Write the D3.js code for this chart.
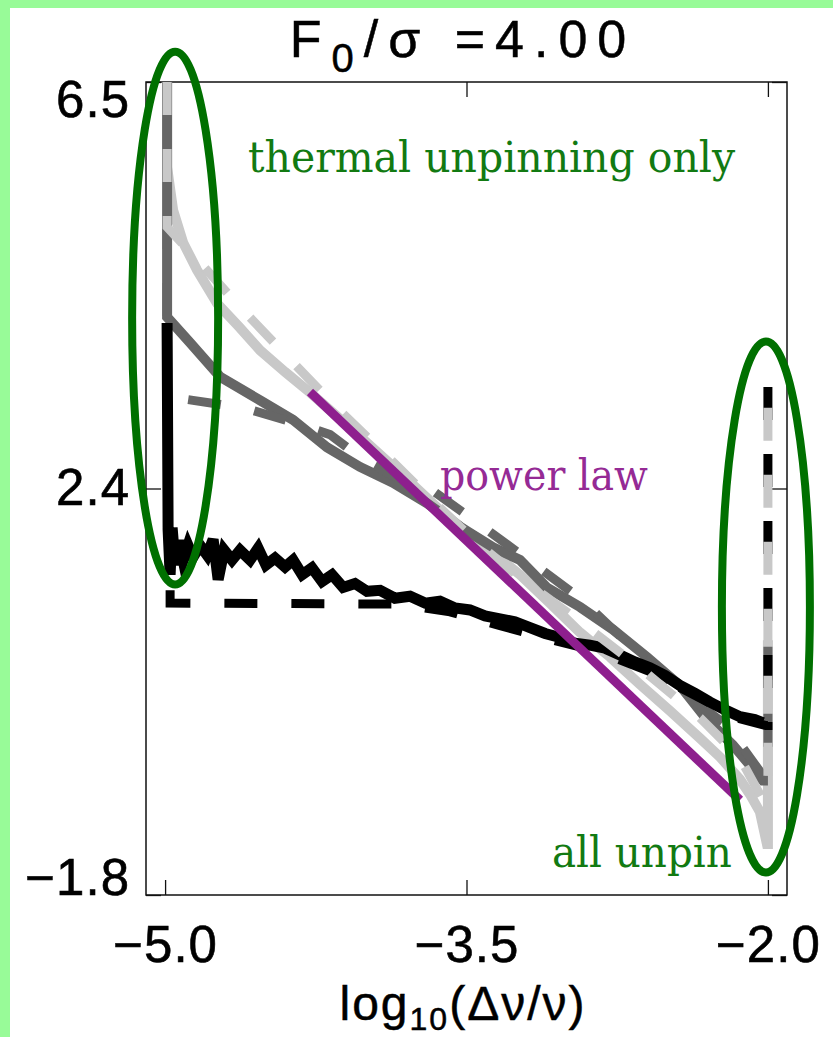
<!DOCTYPE html>
<html>
<head>
<meta charset="utf-8">
<script src="https://cdn.jsdelivr.net/npm/d3@7/dist/d3.min.js"></script>
<style>
  html, body { margin: 0; padding: 0; background: #fff; }
  svg { display: block; }
</style>
</head>
<body>
<svg id="chart" width="833" height="1037"></svg>
<script>
// ---------------- data ----------------
const xTicks = [-5.0, -3.5, -2.0];
const xTickLabels = ["\u22125.0", "\u22123.5", "\u22122.0"];
const yTicks = [-1.8, 2.35, 6.5];
const yTickLabels = ["\u22121.8", "2.4", "6.5"];
const xDomain = [-5.095, -1.905];
const yDomain = [-1.8, 6.5];

// each series: [log10(dnu/nu), value]
const lightGraySolid = [
  [-4.99, 6.50], [-4.99, 5.63], [-4.960, 5.19], [-4.910, 4.86], [-4.841, 4.58],
  [-4.741, 4.24], [-4.627, 3.99], [-4.527, 3.76], [-4.403, 3.54], [-4.279, 3.33],
  [-4.030, 2.88], [-3.831, 2.51], [-3.617, 2.10], [-3.368, 1.69], [-3.234, 1.47],
  [-3.085, 1.18], [-2.935, 0.88], [-2.786, 0.63], [-2.637, 0.35], [-2.488, 0.08],
  [-2.338, -0.20], [-2.239, -0.39], [-2.139, -0.62], [-2.090, -0.77], [-2.040, -0.95],
  [-2.005, -1.28], [-2.0, -1.28], [-2.0, 0.80]
];
const lightGrayDashed = [
  [-4.99, 6.50], [-4.99, 5.02], [-4.801, 4.60], [-4.622, 4.19], [-4.388, 3.69],
  [-4.154, 3.19], [-3.905, 2.70], [-3.667, 2.22], [-3.433, 1.77], [-3.234, 1.44],
  [-2.935, 0.99], [-2.637, 0.52], [-2.338, 0.01], [-2.139, -0.40], [-2.025, -0.83],
  [-2.0, -0.83], [-2.0, 3.25]
];
const darkGraySolid = [
  [-4.99, 6.50], [-4.99, 4.10], [-4.876, 3.84], [-4.726, 3.49], [-4.527, 3.25],
  [-4.363, 3.05], [-4.194, 2.77], [-4.030, 2.57], [-3.866, 2.41], [-3.697, 2.20],
  [-3.532, 1.96], [-3.368, 1.75], [-3.234, 1.62], [-3.100, 1.34], [-2.935, 1.14],
  [-2.771, 0.91], [-2.602, 0.63], [-2.438, 0.34], [-2.303, -0.01], [-2.174, -0.27],
  [-2.025, -0.63], [-2.0, -0.63]
];
const darkGrayDashed = [
  [-4.99, 6.50], [-4.99, 3.30], [-4.960, 3.28], [-4.861, 3.25], [-4.602, 3.17],
  [-4.338, 3.01], [-4.179, 2.90], [-4.030, 2.67], [-3.866, 2.48], [-3.697, 2.37],
  [-3.418, 1.96], [-3.219, 1.66], [-2.935, 1.23], [-2.672, 0.72], [-2.438, 0.29],
  [-2.204, -0.07], [-2.025, -0.58], [-2.0, -0.58], [-2.0, 0.80]
];
const blackSolid = [
  [-4.99, 4.04], [-4.985, 1.93], [-4.975, 1.47], [-4.965, 1.95], [-4.950, 1.57],
  [-4.930, 1.82], [-4.910, 1.62], [-4.886, 1.77], [-4.861, 1.65], [-4.826, 1.77],
  [-4.791, 1.67], [-4.761, 1.83], [-4.736, 1.42], [-4.706, 1.72], [-4.667, 1.62],
  [-4.627, 1.72], [-4.577, 1.62], [-4.537, 1.74], [-4.498, 1.57], [-4.453, 1.64],
  [-4.403, 1.55], [-4.363, 1.62], [-4.318, 1.47], [-4.269, 1.54], [-4.219, 1.40],
  [-4.169, 1.47], [-4.114, 1.34], [-4.055, 1.38], [-3.995, 1.30], [-3.930, 1.31],
  [-3.856, 1.23], [-3.781, 1.25], [-3.706, 1.18], [-3.632, 1.20], [-3.557, 1.13],
  [-3.483, 1.11], [-3.408, 1.05], [-3.333, 1.02], [-3.259, 0.99], [-3.184, 0.93],
  [-3.109, 0.87], [-3.035, 0.83], [-2.960, 0.77], [-2.886, 0.75], [-2.811, 0.72],
  [-2.736, 0.65], [-2.662, 0.58], [-2.587, 0.52], [-2.512, 0.44], [-2.438, 0.34],
  [-2.363, 0.26], [-2.289, 0.17], [-2.214, 0.09], [-2.139, 0.02], [-2.065, -0.01],
  [-2.025, -0.04]
];
const blackDashed = [
  [-4.975, 1.31], [-4.975, 1.18], [-3.831, 1.17], [-3.582, 1.09], [-3.333, 0.95],
  [-3.085, 0.81], [-2.836, 0.68], [-2.587, 0.48], [-2.338, 0.21], [-2.139, 0.00],
  [-2.010, -0.07], [-2.0, -0.07], [-2.0, 3.50]
];
const powerLaw = [[-4.279, 3.335], [-2.139, -0.83]];

// annotation ellipses (centre and half-axes in data units)
const leftEllipse = {cx: -4.95, cy: 4.09, rx: 0.214, ry: 2.72};
const rightEllipse = {cx: -2.01, cy: 1.14, rx: 0.219, ry: 2.71};

// annotation texts anchored at data positions
const notes = [
  {text: "thermal unpinning only", x: -4.587, y: 5.58, width: 487, color: "#127a12"},
  {text: "power law", x: -3.632, y: 2.33, width: 208, color: "#952a95"},
  {text: "all unpin", x: -3.075, y: -1.51, width: 180, color: "#127a12"}
];

// ---------------- drawing ----------------
const W = 833, H = 1037;
const plot = {left: 146, right: 787, top: 82, bottom: 895};
const x = d3.scaleLinear().domain(xDomain).range([plot.left, plot.right]);
const y = d3.scaleLinear().domain(yDomain).range([plot.bottom, plot.top]);
const sansFont = "'Liberation Sans', Arial, sans-serif";
const serifFont = "'DejaVu Serif', serif";

const svg = d3.select("#chart");

// pale green edge along the top and left of the page
svg.append("rect").attr("width", W).attr("height", H).attr("fill", "#98fb98");
svg.append("rect").attr("x", 10).attr("y", 8).attr("width", W - 10).attr("height", H - 8).attr("fill", "#fff");

svg.append("defs").append("clipPath").attr("id", "plot-clip").append("rect")
  .attr("x", plot.left).attr("y", plot.top - 1)
  .attr("width", plot.right - plot.left).attr("height", plot.bottom - plot.top + 1);

// frame
svg.append("rect")
  .attr("x", plot.left).attr("y", plot.top)
  .attr("width", plot.right - plot.left).attr("height", plot.bottom - plot.top)
  .attr("fill", "none").attr("stroke", "#111").attr("stroke-width", 1.5);

// axes with inward ticks
const gBottom = svg.append("g").attr("transform", `translate(0,${plot.bottom})`)
  .call(d3.axisBottom(x).tickValues(xTicks).tickFormat((d, i) => xTickLabels[i])
    .tickSizeInner(-15).tickSizeOuter(0).tickPadding(31));
const gTop = svg.append("g").attr("transform", `translate(0,${plot.top})`)
  .call(d3.axisTop(x).tickValues(xTicks).tickFormat("").tickSizeInner(-15).tickSizeOuter(0));
const gLeft = svg.append("g").attr("transform", `translate(${plot.left},0)`)
  .call(d3.axisLeft(y).tickValues(yTicks).tickFormat((d, i) => yTickLabels[i])
    .tickSizeInner(-15).tickSizeOuter(0).tickPadding(16));
const gRight = svg.append("g").attr("transform", `translate(${plot.right},0)`)
  .call(d3.axisRight(y).tickValues(yTicks).tickFormat("").tickSizeInner(-15).tickSizeOuter(0));

[gBottom, gTop, gLeft, gRight].forEach(g => {
  g.select(".domain").remove();
  g.selectAll(".tick line").attr("stroke", "#111").attr("stroke-width", 1.3);
  g.selectAll(".tick text").attr("font-family", sansFont).attr("font-size", 51)
    .attr("letter-spacing", 1)
    .attr("fill", "#000").attr("stroke", "#000").attr("stroke-width", 0.6);
});
// end labels of the value axis sit just inside the frame
gLeft.selectAll(".tick text").attr("transform", d =>
  d === yTicks[yTicks.length - 1] ? "translate(0,18)" : d === yTicks[0] ? "translate(0,-17)" : null);

// curves (drawing order sets which shade shows where they overlap)
const line = d3.line().x(d => x(d[0])).y(d => y(d[1]));
const series = [
  {data: lightGraySolid, color: "#c8c8c8", dash: null, width: 10},
  {data: darkGraySolid, color: "#666666", dash: null, width: 10},
  {data: darkGrayDashed, color: "#666666", dash: "33,34", width: 9},
  {data: blackSolid, color: "#000000", dash: null, width: 11},
  {data: blackDashed, color: "#000000", dash: "33,34", width: 9},
  {data: lightGrayDashed, color: "#c8c8c8", dash: "33,34", width: 9}
];
const curves = svg.append("g").attr("clip-path", "url(#plot-clip)");
curves.selectAll("path").data(series).join("path")
  .attr("d", s => line(s.data))
  .attr("fill", "none")
  .attr("stroke", s => s.color)
  .attr("stroke-width", s => s.width)
  .attr("stroke-linejoin", "miter")
  .attr("stroke-dasharray", s => s.dash);

// power-law guide
svg.append("path").attr("d", line(powerLaw))
  .attr("fill", "none").attr("stroke", "#8e1f8e").attr("stroke-width", 9);

// ellipses marking the two regimes
[leftEllipse, rightEllipse].forEach(e => {
  svg.append("ellipse")
    .attr("cx", x(e.cx)).attr("cy", y(e.cy))
    .attr("rx", x(e.cx + e.rx) - x(e.cx)).attr("ry", y(e.cy - e.ry) - y(e.cy))
    .attr("fill", "none").attr("stroke", "#007000").attr("stroke-width", 8);
});

// annotation labels
svg.selectAll("text.note").data(notes).join("text")
  .attr("class", "note")
  .attr("x", d => x(d.x)).attr("y", d => y(d.y))
  .attr("font-family", serifFont).attr("font-size", 42)
  .attr("textLength", d => d.width).attr("lengthAdjust", "spacingAndGlyphs")
  .attr("fill", d => d.color)
  .text(d => d.text);

// title
const title = svg.append("text")
  .attr("x", 463).attr("y", 57).attr("text-anchor", "middle")
  .attr("font-family", sansFont).attr("font-size", 52).attr("letter-spacing", 10)
  .attr("fill", "#000").attr("stroke", "#000").attr("stroke-width", 0.5);
title.append("tspan").text("F");
title.append("tspan").attr("font-size", 40).attr("dy", 15).text("0");
title.append("tspan").attr("dy", -15).text("/\u03c3\u00a0=4.00");

// axis title
const xTitle = svg.append("text")
  .attr("x", 463).attr("y", 1020).attr("text-anchor", "middle")
  .attr("font-family", sansFont).attr("font-size", 48).attr("letter-spacing", 2)
  .attr("fill", "#000").attr("stroke", "#000").attr("stroke-width", 0.5);
xTitle.append("tspan").text("log");
xTitle.append("tspan").attr("font-size", 32).attr("dy", 10).text("10");
xTitle.append("tspan").attr("dy", -10).text("(\u0394\u03bd/\u03bd)");
</script>
</body>
</html>
